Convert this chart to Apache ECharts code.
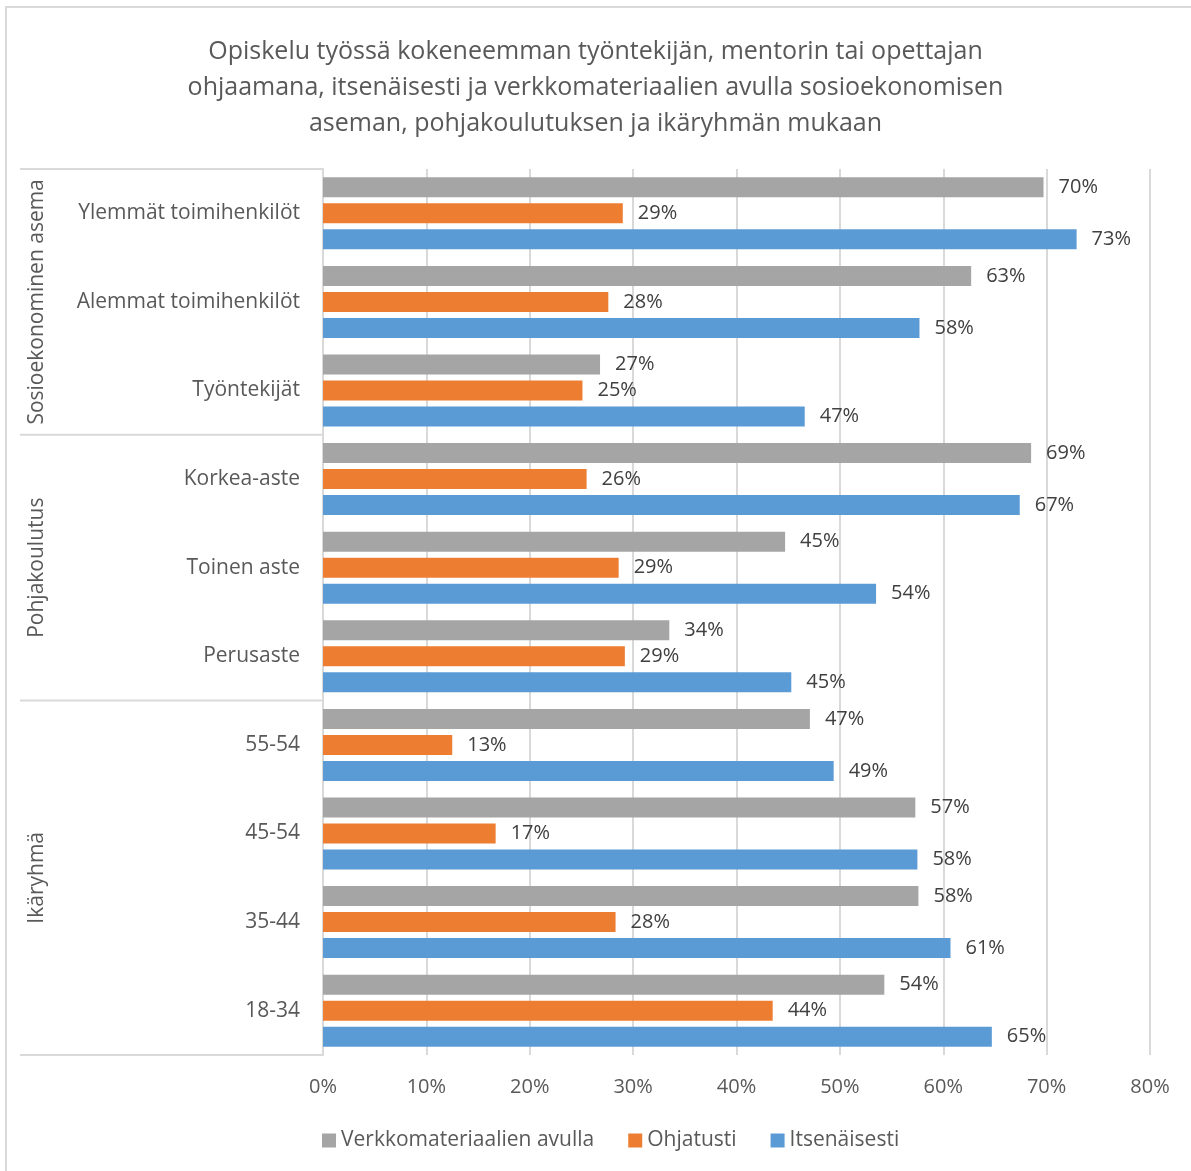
<!DOCTYPE html>
<html>
<head>
<meta charset="utf-8">
<script src="https://cdn.jsdelivr.net/npm/echarts@6/dist/echarts.min.js"></script>
<style>html,body{margin:0;padding:0;background:#fff;}#c{width:1191px;height:1171px;}</style>
</head>
<body>
<div id="c"></div>
<script>
const titleText = 'Opiskelu työssä kokeneemman työntekijän, mentorin tai opettajan\nohjaamana, itsenäisesti ja verkkomateriaalien avulla sosioekonomisen\naseman, pohjakoulutuksen ja ikäryhmän mukaan';
const categories = ['Ylemmät toimihenkilöt','Alemmat toimihenkilöt','Työntekijät','Korkea-aste','Toinen aste','Perusaste','55-54','45-54','35-44','18-34'];
const groups = [
  {name: 'Sosioekonominen asema', from: 0, to: 2},
  {name: 'Pohjakoulutus', from: 3, to: 5},
  {name: 'Ikäryhmä', from: 6, to: 9}
];
const seriesNames = ['Verkkomateriaalien avulla','Ohjatusti','Itsenäisesti'];
const verkko = [69.7, 62.7, 26.8, 68.5, 44.7, 33.5, 47.1, 57.3, 57.6, 54.3];
const ohjatusti = [29.0, 27.6, 25.1, 25.5, 28.6, 29.2, 12.5, 16.7, 28.3, 43.5];
const itsenaisesti = [72.9, 57.7, 46.6, 67.4, 53.5, 45.3, 49.4, 57.5, 60.7, 64.7];
const xTicks = [0, 10, 20, 30, 40, 50, 60, 70, 80];
const colors = ['#a5a5a5', '#ed7d31', '#5b9bd5'];

const FONT = 'Open Sans';
const TXT = '#595959';
const chart = echarts.init(document.getElementById('c'));

function mkSeries(name, data, color) {
  return {
    name: name, type: 'bar', data: data, barWidth: 20, barGap: '30%',
    itemStyle: {color: color},
    label: {show: true, position: 'right', distance: 15, color: '#404040', fontFamily: FONT, fontSize: 20,
      formatter: p => Math.round(p.value) + '%'}
  };
}

chart.setOption({
  animation: false,
  title: {text: titleText, left: 'center', top: 29,
    textStyle: {fontFamily: FONT, fontSize: 25, fontWeight: 'normal', color: TXT, lineHeight: 36}},
  legend: {bottom: 15, left: 317, itemWidth: 14, itemHeight: 14, itemGap: 34, icon: 'rect',
    textStyle: {fontFamily: FONT, fontSize: 21, color: TXT}, data: seriesNames},
  grid: {left: 323, right: 41, top: 169, bottom: 116, containLabel: false},
  xAxis: {type: 'value', min: xTicks[0], max: xTicks[xTicks.length - 1], interval: 10,
    axisLine: {show: false}, axisTick: {show: false},
    splitLine: {lineStyle: {color: '#d9d9d9', width: 2}},
    axisLabel: {formatter: '{value}%', fontFamily: FONT, fontSize: 20, color: TXT, margin: 22}},
  yAxis: {type: 'category', data: categories, inverse: true,
    axisLine: {show: true, lineStyle: {color: '#d9d9d9', width: 2}},
    axisTick: {show: false},
    axisLabel: {fontFamily: FONT, fontSize: 21, color: TXT, margin: 23}},
  series: [mkSeries(seriesNames[0], verkko, colors[0]), mkSeries(seriesNames[1], ohjatusti, colors[1]), mkSeries(seriesNames[2], itsenaisesti, colors[2])]
});

function drawGroups() {
  const c0 = chart.convertToPixel({yAxisIndex: 0}, categories[0]);
  const c1 = chart.convertToPixel({yAxisIndex: 0}, categories[1]);
  const band = c1 - c0;
  const x0 = chart.convertToPixel({xAxisIndex: 0}, 0);
  const elems = [];
  elems.push({type: 'rect', shape: {x: 6, y: 7, width: 1300, height: 1300}, style: {fill: 'none', stroke: '#d9d9d9', lineWidth: 2}, silent: true});
  groups.forEach((g, i) => {
    const top = chart.convertToPixel({yAxisIndex: 0}, categories[g.from]) - band / 2;
    const bot = chart.convertToPixel({yAxisIndex: 0}, categories[g.to]) + band / 2;
    if (i === 0) elems.push({type: 'line', shape: {x1: 20, y1: top, x2: x0, y2: top}, style: {stroke: '#d9d9d9', lineWidth: 2}});
    elems.push({type: 'line', shape: {x1: 20, y1: bot, x2: x0, y2: bot}, style: {stroke: '#d9d9d9', lineWidth: 2}});
    elems.push({type: 'text', x: 37, y: (top + bot) / 2, rotation: Math.PI / 2,
      style: {text: g.name, fontFamily: FONT, fontSize: 21, fill: TXT, align: 'center', verticalAlign: 'middle'}});
  });
  chart.setOption({graphic: elems});
}
drawGroups();
</script>
</body>
</html>
